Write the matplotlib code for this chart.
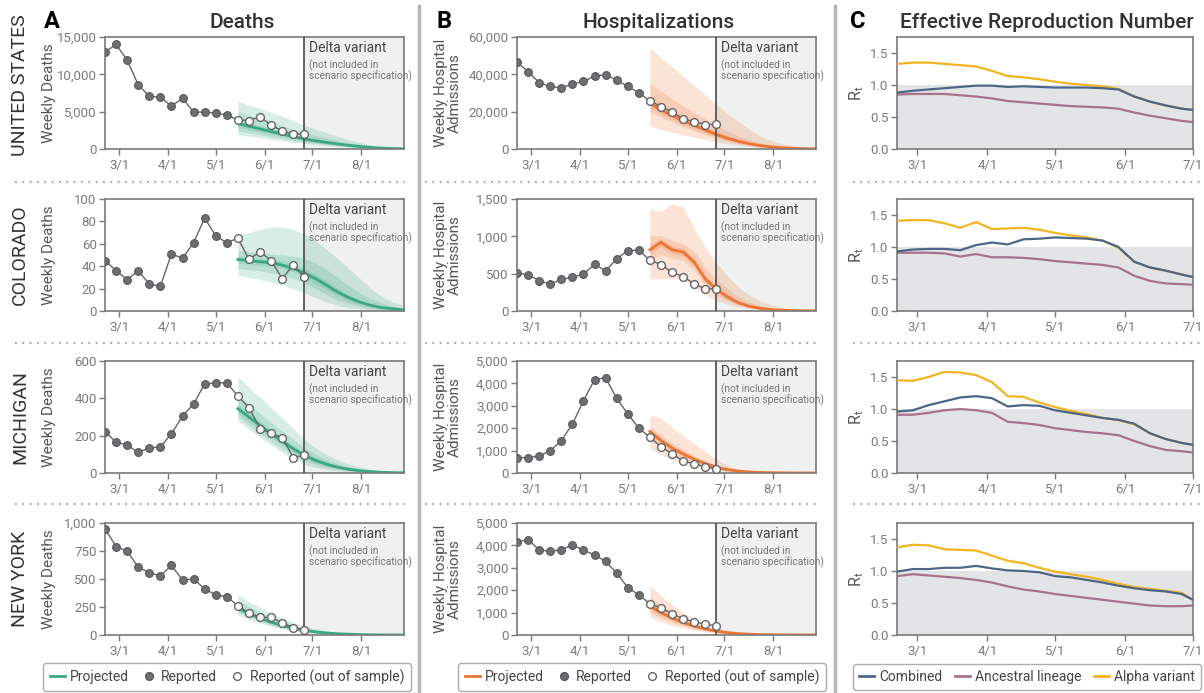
import numpy as np
import pandas as pd
import matplotlib
matplotlib.use("Agg")
import matplotlib.pyplot as plt
import matplotlib.dates as mdates
from matplotlib.lines import Line2D
from matplotlib.ticker import FuncFormatter, MultipleLocator

plt.rcParams['font.family'] = ['Roboto', 'DejaVu Sans']

# =====================================================================
# Data
# =====================================================================
report_dates = pd.date_range("2021-02-20", periods=19, freq="7D")
n_fit = 12  # first 12 weeks used for fitting, rest are out of sample
proj_dates = pd.date_range("2021-05-15", periods=16, freq="7D")
rt_dates = list(pd.date_range("2021-02-20", "2021-06-26", freq="7D")) + [pd.Timestamp("2021-07-01")]
delta_date = pd.Timestamp("2021-06-26")

states = ["UNITED STATES", "COLORADO", "MICHIGAN", "NEW YORK"]

# --- weekly deaths (reported) ---
us_deaths = [13000, 14000, 11900, 8600, 7050, 6950, 5750, 6800, 4950, 4950, 4800, 4550,
             3900, 3800, 4350, 3200, 2400, 2000, 2000]
co_deaths = [45, 36, 28, 36, 24, 22, 51, 47, 61, 83, 67, 61,
             65, 46, 53, 45, 29, 41, 30]
mi_deaths = [222, 165, 150, 110, 135, 140, 210, 305, 370, 477, 483, 483,
             412, 350, 238, 212, 190, 83, 96]
ny_deaths = [948, 790, 748, 606, 557, 527, 622, 490, 500, 412, 358, 343,
             260, 197, 158, 157, 110, 66, 45]

# --- weekly hospital admissions (reported) ---
us_hosp = [46500, 41500, 35600, 33500, 32800, 34800, 36200, 39000, 39900, 36900, 33600, 30100,
           25800, 22700, 19900, 16100, 14700, 13100, 13200]
co_hosp = [510, 485, 407, 358, 425, 452, 492, 627, 537, 698, 810, 815,
           680, 622, 519, 461, 363, 296, 299]
mi_hosp = [687, 687, 761, 985, 1448, 2180, 3224, 4164, 4254, 3328, 2642, 2000,
           1600, 1165, 866, 537, 418, 270, 194]
ny_hosp = [4150, 4254, 3806, 3731, 3806, 4030, 3776, 3582, 3284, 2761, 2119, 1791,
           1403, 1209, 955, 716, 597, 478, 418]

# --- projected deaths (median and 95/80/50 % bands) ---
us_deaths_med = [3400, 3050, 2700, 2350, 2000, 1650, 1350, 1100, 880, 680, 500, 340, 210, 120, 60, 30]
us_deaths_lo95 = [1900, 1700, 1500, 1300, 1100, 900, 750, 600, 450, 330, 230, 150, 90, 50, 25, 10]
us_deaths_hi95 = [6400, 5900, 5400, 4900, 4400, 3800, 3200, 2700, 2200, 1700, 1250, 850, 550, 320, 160, 80]
us_deaths_lo80 = [2400, 2150, 1900, 1650, 1400, 1150, 950, 780, 600, 450, 320, 210, 130, 70, 35, 15]
us_deaths_hi80 = [5000, 4500, 4000, 3550, 3100, 2650, 2200, 1800, 1450, 1100, 800, 550, 350, 200, 100, 50]
us_deaths_lo50 = [2900, 2600, 2300, 2000, 1700, 1400, 1150, 930, 730, 560, 410, 280, 170, 95, 50, 20]
us_deaths_hi50 = [3900, 3500, 3100, 2750, 2350, 1950, 1600, 1300, 1050, 800, 590, 400, 250, 140, 70, 35]

co_deaths_med = [46, 45, 44, 43, 41, 38, 34, 29, 23, 17, 12, 8, 5, 3, 2, 1]
co_deaths_lo95 = [32, 30, 28, 26, 23, 20, 16, 12, 8, 5, 3, 2, 1, 0.5, 0.2, 0.1]
co_deaths_hi95 = [68, 70, 73, 75, 75, 73, 69, 63, 55, 47, 38, 29, 20, 13, 8, 5]
co_deaths_lo80 = [38, 37, 36, 34, 32, 29, 25, 20, 15, 10, 7, 4, 2, 1, 0.5, 0.2]
co_deaths_hi80 = [54, 53, 52, 51, 50, 49, 47, 43, 37, 30, 23, 16, 11, 7, 4, 2]
co_deaths_lo50 = [43, 42, 41, 40, 38, 35, 31, 25, 19, 14, 9, 6, 4, 2, 1, 0.5]
co_deaths_hi50 = [49, 48, 47, 46, 45, 42, 38, 33, 27, 20, 14, 10, 6, 4, 2, 1]

mi_deaths_med = [345, 300, 255, 210, 170, 130, 95, 68, 47, 31, 20, 12, 7, 4, 2, 1]
mi_deaths_lo95 = [280, 235, 190, 150, 110, 75, 45, 30, 18, 10, 6, 3, 2, 1, 0.5, 0]
mi_deaths_hi95 = [515, 460, 405, 350, 295, 240, 180, 135, 100, 70, 48, 32, 20, 12, 7, 4]
mi_deaths_lo80 = [300, 255, 210, 170, 130, 95, 65, 45, 30, 20, 12, 7, 4, 2, 1, 0.5]
mi_deaths_hi80 = [420, 370, 320, 270, 225, 180, 135, 100, 72, 50, 34, 22, 14, 8, 4, 2]
mi_deaths_lo50 = [320, 275, 232, 190, 152, 113, 80, 56, 38, 25, 15, 9, 5, 3, 1.5, 0.7]
mi_deaths_hi50 = [370, 325, 278, 230, 188, 148, 110, 80, 56, 38, 25, 16, 10, 6, 3, 1.5]

ny_deaths_med = [240, 190, 150, 115, 85, 60, 42, 28, 18, 11, 7, 4, 2, 1, 0.5, 0.3]
ny_deaths_lo95 = [180, 140, 105, 78, 55, 37, 24, 15, 9, 5, 3, 2, 1, 0.5, 0.2, 0.1]
ny_deaths_hi95 = [360, 300, 245, 195, 150, 110, 80, 55, 38, 25, 16, 10, 6, 4, 2, 1]
ny_deaths_lo80 = [200, 160, 122, 92, 66, 46, 30, 20, 12, 7, 4, 2.5, 1.5, 0.8, 0.4, 0.2]
ny_deaths_hi80 = [310, 255, 205, 160, 122, 90, 63, 43, 29, 19, 12, 7, 4, 2, 1, 0.5]
ny_deaths_lo50 = [220, 172, 133, 100, 73, 51, 35, 23, 14, 8, 5, 3, 1.7, 0.9, 0.4, 0.2]
ny_deaths_hi50 = [265, 212, 168, 130, 97, 70, 50, 34, 22, 14, 9, 5, 3, 1.5, 0.8, 0.4]

# --- projected hospital admissions ---
us_hosp_med = [24500, 21000, 18000, 15200, 12700, 10200, 7800, 5800, 4100, 2800, 1800, 1100, 650, 350, 180, 90]
us_hosp_lo95 = [12000, 10500, 9000, 7600, 6300, 5000, 3800, 2800, 2000, 1400, 900, 550, 320, 180, 90, 40]
us_hosp_hi95 = [54000, 49000, 44000, 39000, 34000, 29000, 24000, 19000, 14500, 10500, 7000, 4500, 2700, 1500, 800, 400]
us_hosp_lo80 = [20000, 17000, 14500, 12000, 9800, 7700, 5800, 4200, 2900, 1900, 1200, 750, 430, 230, 120, 60]
us_hosp_hi80 = [35000, 31000, 27000, 23000, 19500, 16000, 12500, 9500, 7000, 4900, 3300, 2100, 1300, 750, 400, 200]
us_hosp_lo50 = [22000, 18800, 16000, 13300, 11000, 8700, 6600, 4800, 3400, 2300, 1500, 900, 520, 280, 140, 70]
us_hosp_hi50 = [28000, 24500, 21000, 17800, 14800, 12000, 9300, 7000, 5000, 3400, 2200, 1400, 850, 470, 240, 120]

co_hosp_med = [820, 920, 820, 790, 655, 430, 290, 190, 110, 62, 35, 18, 10, 5, 3, 2]
co_hosp_lo95 = [430, 430, 440, 420, 320, 220, 140, 90, 55, 30, 17, 9, 5, 3, 2, 1]
co_hosp_hi95 = [1370, 1330, 1440, 1390, 1100, 850, 650, 470, 320, 210, 130, 80, 45, 25, 15, 8]
co_hosp_lo80 = [680, 760, 700, 680, 550, 340, 220, 140, 80, 45, 25, 14, 8, 4, 2, 1]
co_hosp_hi80 = [1000, 1010, 950, 900, 800, 580, 420, 300, 190, 120, 70, 40, 22, 12, 7, 4]
co_hosp_lo50 = [760, 860, 770, 740, 600, 380, 250, 160, 95, 52, 30, 16, 9, 5, 3, 1.5]
co_hosp_hi50 = [880, 970, 870, 840, 710, 480, 330, 220, 130, 75, 42, 23, 13, 7, 4, 2]

mi_hosp_med = [1850, 1450, 1120, 850, 620, 420, 260, 150, 85, 45, 25, 13, 7, 4, 2, 1]
mi_hosp_lo95 = [1100, 800, 580, 420, 290, 190, 110, 60, 30, 15, 8, 4, 2, 1, 0.5, 0.2]
mi_hosp_hi95 = [2600, 2450, 2050, 1650, 1300, 950, 600, 340, 180, 90, 45, 22, 11, 6, 3, 1.5]
mi_hosp_lo80 = [1500, 1150, 880, 660, 470, 310, 185, 105, 55, 28, 14, 7, 3.5, 2, 1, 0.5]
mi_hosp_hi80 = [2100, 1700, 1350, 1050, 780, 540, 340, 200, 110, 60, 30, 15, 8, 4, 2, 1]
mi_hosp_lo50 = [1700, 1320, 1000, 760, 550, 370, 225, 130, 72, 38, 20, 10, 5, 3, 1.5, 0.7]
mi_hosp_hi50 = [1950, 1560, 1220, 930, 680, 460, 290, 170, 95, 50, 27, 14, 7, 4, 2, 1]

ny_hosp_med = [1300, 1000, 760, 560, 400, 270, 170, 105, 62, 36, 20, 11, 6, 3, 1.5, 0.8]
ny_hosp_lo95 = [800, 590, 430, 310, 210, 140, 85, 50, 28, 15, 8, 4, 2, 1, 0.5, 0.2]
ny_hosp_hi95 = [2200, 1750, 1350, 1000, 720, 500, 330, 210, 130, 78, 45, 25, 14, 8, 4, 2]
ny_hosp_lo80 = [1000, 760, 570, 410, 290, 195, 120, 72, 42, 24, 13, 7, 3.5, 1.8, 0.9, 0.4]
ny_hosp_hi80 = [1700, 1330, 1020, 760, 550, 380, 250, 155, 95, 55, 31, 17, 9, 5, 2.5, 1.2]
ny_hosp_lo50 = [1150, 880, 660, 480, 340, 225, 140, 85, 50, 28, 16, 8, 4, 2, 1, 0.5]
ny_hosp_hi50 = [1450, 1130, 860, 640, 460, 315, 200, 125, 75, 44, 25, 14, 7, 4, 2, 1]

# --- effective reproduction number ---
us_rt_comb = [0.88, 0.91, 0.93, 0.95, 0.97, 0.99, 0.99, 0.97, 0.98, 0.97, 0.96, 0.96,
              0.96, 0.95, 0.93, 0.82, 0.74, 0.68, 0.63, 0.61]
us_rt_anc = [0.85, 0.86, 0.86, 0.86, 0.84, 0.82, 0.79, 0.75, 0.73, 0.71, 0.69, 0.67,
             0.66, 0.65, 0.63, 0.57, 0.52, 0.48, 0.44, 0.42]
us_rt_alpha = [1.33, 1.35, 1.35, 1.33, 1.31, 1.29, 1.22, 1.14, 1.12, 1.09, 1.05, 1.02,
               1.00, 0.98, 0.94, 0.82, 0.74, 0.68, 0.63, 0.61]

co_rt_comb = [0.93, 0.96, 0.97, 0.97, 0.95, 1.03, 1.07, 1.04, 1.12, 1.13, 1.15, 1.14,
              1.13, 1.10, 1.00, 0.77, 0.68, 0.63, 0.57, 0.53]
co_rt_anc = [0.91, 0.91, 0.91, 0.90, 0.85, 0.89, 0.84, 0.84, 0.83, 0.81, 0.78, 0.76,
             0.74, 0.72, 0.68, 0.55, 0.47, 0.43, 0.42, 0.41]
co_rt_alpha = [1.41, 1.42, 1.42, 1.37, 1.30, 1.39, 1.28, 1.29, 1.30, 1.27, 1.22, 1.18,
               1.15, 1.10, 0.99, 0.77, 0.68, 0.63, 0.57, 0.53]

mi_rt_comb = [0.96, 0.98, 1.06, 1.12, 1.18, 1.20, 1.17, 1.04, 1.06, 1.05, 0.98, 0.94,
              0.90, 0.86, 0.83, 0.77, 0.62, 0.53, 0.47, 0.44]
mi_rt_anc = [0.91, 0.91, 0.94, 0.98, 1.00, 0.98, 0.94, 0.80, 0.78, 0.75, 0.70, 0.67,
             0.64, 0.62, 0.59, 0.50, 0.42, 0.36, 0.34, 0.32]
mi_rt_alpha = [1.45, 1.44, 1.50, 1.58, 1.57, 1.53, 1.42, 1.20, 1.19, 1.10, 1.03, 0.97,
               0.92, 0.86, 0.83, 0.76, 0.62, 0.53, 0.47, 0.44]

ny_rt_comb = [0.99, 1.03, 1.03, 1.05, 1.05, 1.08, 1.04, 1.01, 1.00, 0.98, 0.92, 0.90,
              0.86, 0.82, 0.77, 0.73, 0.70, 0.68, 0.64, 0.55]
ny_rt_anc = [0.92, 0.95, 0.93, 0.91, 0.89, 0.86, 0.82, 0.76, 0.71, 0.68, 0.64, 0.61,
             0.58, 0.55, 0.52, 0.49, 0.46, 0.45, 0.45, 0.46]
ny_rt_alpha = [1.37, 1.41, 1.40, 1.34, 1.33, 1.32, 1.24, 1.16, 1.12, 1.05, 0.99, 0.95,
               0.91, 0.86, 0.80, 0.75, 0.72, 0.69, 0.66, 0.55]

deaths_ylim = [(15000, 5000), (100, 20), (600, 200), (1000, 250)]
hosp_ylim = [(60000, 20000), (1500, 500), (5000, 1000), (5000, 1000)]

# =====================================================================
# Style
# =====================================================================
GREEN = '#3aa882'
ORANGE = '#ec7434'
PT_FILL = '#6d6e71'
PT_EDGE = '#58595b'
AXCOL = '#7a7a7a'
TXT = '#444444'
DELTA_BG = '#eff1f0'
C_COMB = '#4d6688'
C_ANC = '#a8728c'
C_ALPHA = '#f2b521'
MS = 5.6

W, H = 1204, 693
fig = plt.figure(figsize=(W / 100, H / 100), dpi=100)
fig.patch.set_facecolor('white')


def px_axes(left, top, right, bottom):
    return fig.add_axes([left / W, 1 - bottom / H, (right - left) / W, (bottom - top) / H])


def fx(x):
    return x / W


def fy(y):
    return 1 - y / H


def month_fmt(v, pos):
    d = mdates.num2date(v)
    return f"{d.month}/{d.day}"


def style_axes(ax, xmax, months):
    for s in ax.spines.values():
        s.set_color(AXCOL)
        s.set_linewidth(1.2)
    ax.tick_params(axis='both', direction='out', length=4, width=1, color=AXCOL,
                   labelcolor='#7a7a7a', labelsize=9.5)
    ax.tick_params(axis='y', pad=2)
    ax.set_xlim(pd.Timestamp("2021-02-20"), xmax)
    ax.xaxis.set_major_locator(mdates.MonthLocator(bymonth=months))
    ax.xaxis.set_major_formatter(FuncFormatter(month_fmt))


def draw_outcome(ax, reported, med, bands, color, ylim):
    top, step = ylim
    xmax = pd.Timestamp("2021-08-28")
    ax.axvspan(delta_date, xmax, color=DELTA_BG, lw=0, zorder=0)
    for lo, hi in bands:
        ax.fill_between(proj_dates, lo, hi, color=color, alpha=0.2, lw=0, zorder=1)
    ax.plot(proj_dates, med, color=color, lw=2, zorder=2)
    ax.axvline(delta_date, color='#555555', lw=1.3, zorder=3)
    ax.plot(report_dates, reported, color='#666666', lw=1, zorder=4)
    ax.plot(report_dates[:n_fit], reported[:n_fit], 'o', ms=MS, mfc=PT_FILL, mec=PT_EDGE,
            mew=0.8, zorder=5)
    ax.plot(report_dates[n_fit:], reported[n_fit:], 'o', ms=MS, mfc='white', mec='#666666',
            mew=1, zorder=5)
    ax.text(delta_date + pd.Timedelta(days=3), top * 0.96, "Delta variant", fontsize=10,
            color=TXT, va='top', ha='left', zorder=6)
    ax.text(delta_date + pd.Timedelta(days=3), top * 0.80,
            "(not included in\nscenario specification)", fontsize=7.3, color='#777777',
            va='top', ha='left', linespacing=0.95, zorder=6)
    ax.set_ylim(0, top)
    ax.yaxis.set_major_locator(MultipleLocator(step))
    ax.yaxis.set_major_formatter(FuncFormatter(lambda v, p: f"{v:,.0f}"))
    style_axes(ax, xmax, range(3, 9))


def draw_rt(ax, comb, anc, alpha):
    ax.axhspan(0, 1, color='#e3e4e5', lw=0, zorder=0)
    ax.plot(rt_dates, anc, color=C_ANC, lw=1.6, zorder=2)
    ax.plot(rt_dates, alpha, color=C_ALPHA, lw=1.6, zorder=3)
    ax.plot(rt_dates, comb, color=C_COMB, lw=1.6, zorder=4)
    ax.set_ylim(0, 1.75)
    ax.yaxis.set_major_locator(MultipleLocator(0.5))
    ax.yaxis.set_major_formatter(FuncFormatter(lambda v, p: f"{v:.1f}"))
    style_axes(ax, pd.Timestamp("2021-07-01"), range(3, 8))


deaths = [
    (us_deaths, us_deaths_med, [(us_deaths_lo95, us_deaths_hi95), (us_deaths_lo80, us_deaths_hi80), (us_deaths_lo50, us_deaths_hi50)]),
    (co_deaths, co_deaths_med, [(co_deaths_lo95, co_deaths_hi95), (co_deaths_lo80, co_deaths_hi80), (co_deaths_lo50, co_deaths_hi50)]),
    (mi_deaths, mi_deaths_med, [(mi_deaths_lo95, mi_deaths_hi95), (mi_deaths_lo80, mi_deaths_hi80), (mi_deaths_lo50, mi_deaths_hi50)]),
    (ny_deaths, ny_deaths_med, [(ny_deaths_lo95, ny_deaths_hi95), (ny_deaths_lo80, ny_deaths_hi80), (ny_deaths_lo50, ny_deaths_hi50)]),
]
hosp = [
    (us_hosp, us_hosp_med, [(us_hosp_lo95, us_hosp_hi95), (us_hosp_lo80, us_hosp_hi80), (us_hosp_lo50, us_hosp_hi50)]),
    (co_hosp, co_hosp_med, [(co_hosp_lo95, co_hosp_hi95), (co_hosp_lo80, co_hosp_hi80), (co_hosp_lo50, co_hosp_hi50)]),
    (mi_hosp, mi_hosp_med, [(mi_hosp_lo95, mi_hosp_hi95), (mi_hosp_lo80, mi_hosp_hi80), (mi_hosp_lo50, mi_hosp_hi50)]),
    (ny_hosp, ny_hosp_med, [(ny_hosp_lo95, ny_hosp_hi95), (ny_hosp_lo80, ny_hosp_hi80), (ny_hosp_lo50, ny_hosp_hi50)]),
]
rts = [
    (us_rt_comb, us_rt_anc, us_rt_alpha),
    (co_rt_comb, co_rt_anc, co_rt_alpha),
    (mi_rt_comb, mi_rt_anc, mi_rt_alpha),
    (ny_rt_comb, ny_rt_anc, ny_rt_alpha),
]

# =====================================================================
# Panels
# =====================================================================
row_tops = [37, 199, 361, 523]
row_h = 112
label_y = [85, 255, 417, 579]

for i in range(4):
    t, b = row_tops[i], row_tops[i] + row_h

    ax = px_axes(105, t, 404, b)
    rep, med, bands = deaths[i]
    draw_outcome(ax, rep, med, bands, GREEN, deaths_ylim[i])
    fig.text(fx(49), fy((t + b) / 2), "Weekly Deaths", rotation=90, ha='center', va='center',
             fontsize=11, color='#555555')
    fig.text(fx(20), fy(label_y[i]), states[i], rotation=90, ha='center', va='center',
             fontsize=14, color='#333333')

    ax = px_axes(517, t, 816, b)
    rep, med, bands = hosp[i]
    draw_outcome(ax, rep, med, bands, ORANGE, hosp_ylim[i])
    fig.text(fx(448), fy((t + b) / 2), "Weekly Hospital\nAdmissions", rotation=90,
             ha='center', va='center', fontsize=11, color='#555555', linespacing=0.95)

    ax = px_axes(897, t, 1193, b)
    draw_rt(ax, *rts[i])
    fig.text(fx(857), fy((t + b) / 2), r"R$_\mathregular{t}$", rotation=90, ha='center',
             va='center', fontsize=11.5, color='#555555')

# column titles and panel letters
fig.text(fx(52), fy(22), "A", fontsize=17, fontweight='bold', color='black', ha='center', va='center')
fig.text(fx(444), fy(22), "B", fontsize=17, fontweight='bold', color='black', ha='center', va='center')
fig.text(fx(858), fy(22), "C", fontsize=17, fontweight='bold', color='black', ha='center', va='center')
fig.text(fx(242), fy(22), "Deaths", fontsize=15, fontweight='medium', color='#333333',
         ha='center', va='center')
fig.text(fx(659), fy(22), "Hospitalizations", fontsize=15, fontweight='medium', color='#333333',
         ha='center', va='center')
fig.text(fx(1047), fy(22), "Effective Reproduction Number", fontsize=15, fontweight='medium',
         color='#333333', ha='center', va='center')

# separators
for x in (419, 835):
    fig.add_artist(Line2D([fx(x), fx(x)], [fy(6), fy(693)], color='#b8b8b8', lw=2.5))
for y in (182, 343, 504):
    for x0, x1 in ((15, 405), (425, 820), (853, 1200)):
        fig.add_artist(Line2D([fx(x0), fx(x1)], [fy(y), fy(y)], color='#aaaaaa', lw=1.6,
                              linestyle=(0, (0.8, 2.5))))


# legends
def add_legend(handles, labels, cx):
    leg = fig.legend(handles, labels, loc='center', bbox_to_anchor=(fx(cx), fy(677)),
                     ncol=3, fontsize=10, frameon=True, fancybox=True, handlelength=1.1,
                     handletextpad=0.35, columnspacing=0.9, borderpad=0.45,
                     labelcolor='#444444')
    leg.get_frame().set_edgecolor('#999999')
    leg.get_frame().set_linewidth(1)
    return leg


def out_handles(color):
    return [
        Line2D([], [], color=color, lw=2),
        Line2D([], [], ls='none', marker='o', ms=MS, mfc=PT_FILL, mec=PT_EDGE),
        Line2D([], [], ls='none', marker='o', ms=MS, mfc='white', mec='#666666'),
    ]


out_labels = ["Projected", "Reported", "Reported (out of sample)"]
add_legend(out_handles(GREEN), out_labels, 227)
add_legend(out_handles(ORANGE), out_labels, 642)
add_legend([Line2D([], [], color=c, lw=2) for c in (C_COMB, C_ANC, C_ALPHA)],
           ["Combined", "Ancestral lineage", "Alpha variant"], 1027)

fig.savefig("out.png", dpi=100)
